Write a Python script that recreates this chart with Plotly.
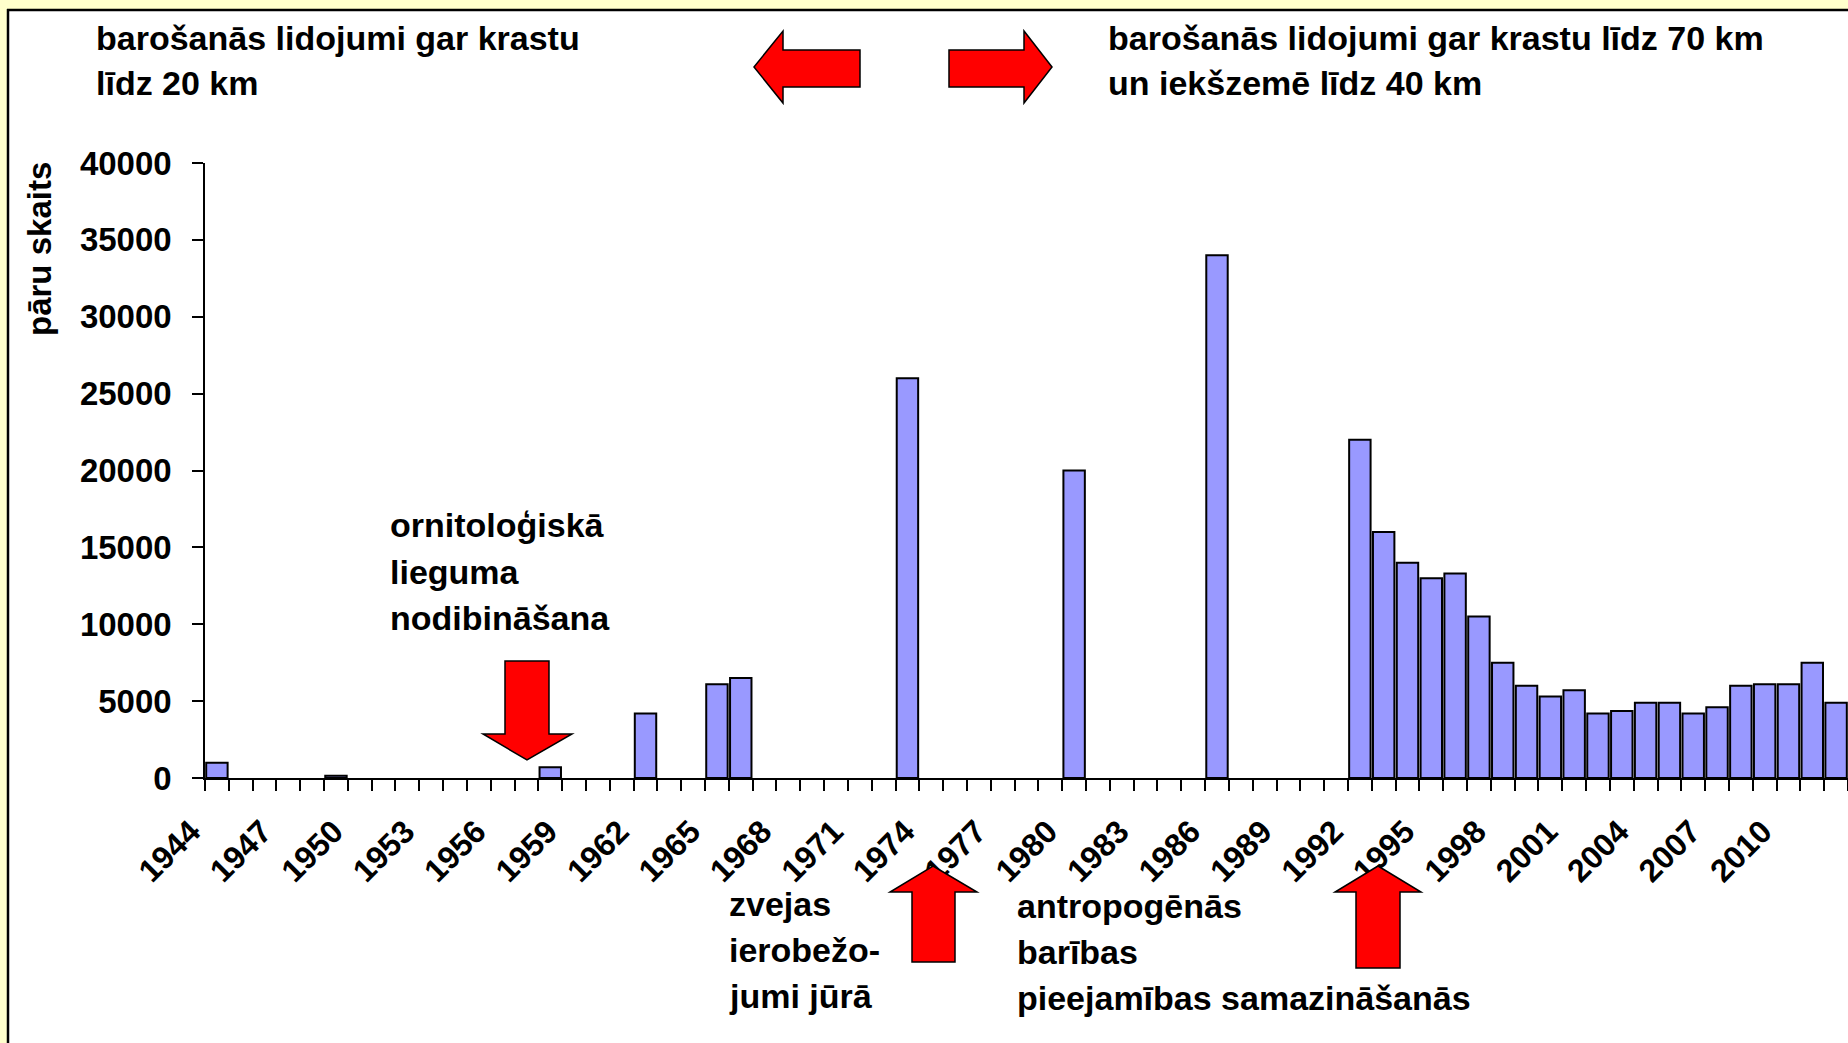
import plotly.graph_objects as go

# ---------------- data ----------------
years = list(range(1944, 2013))
pairs = [
    1000, None, None, None, None, 150, None, None, None, None,      # 1944-1953
    None, None, None, None, 700, None, None, None, 4200, None,      # 1954-1963
    None, 6100, 6500, None, None, None, None, None, None, 26000,    # 1964-1973
    None, None, None, None, None, None, 20000, None, None, None,    # 1974-1983
    None, None, 34000, None, None, None, None, None, 22000, 16000,  # 1984-1993
    14000, 13000, 13300, 10500, 7500, 6000, 5300, 5700, 4200, 4350, # 1994-2003
    4900, 4900, 4200, 4600, 6000, 6100, 6100, 7500, 4900,           # 2004-2012
]
label_years = list(range(1944, 2011, 3))
y_ticks = list(range(0, 40001, 5000))

# ---------------- geometry helpers (pixels -> paper) ----------------
W, H = 1848, 1043
L, R, T, B = 205, 0, 163, 265
PW = W - L - R
PH = H - T - B
BOTTOM = H - B


def px(x):
    return (x - L) / PW


def py(y):
    return (BOTTOM - y) / PH


def path(points):
    s = "M " + " L ".join(f"{px(x):.5f},{py(y):.5f}" for x, y in points) + " Z"
    return s


FONT = "Liberation Sans, Arial, sans-serif"

fig = go.Figure()
fig.add_trace(go.Bar(
    x=years, y=pairs,
    marker=dict(color="#9999FF", line=dict(color="black", width=2)),
    hoverinfo="x+y",
))

shapes = []
# page background strips and chart frame
shapes.append(dict(type="rect", xref="paper", yref="paper", x0=px(0), x1=px(8), y0=py(H + 5), y1=py(-5),
                   fillcolor="#FFFFCC", line=dict(width=0), layer="below"))
shapes.append(dict(type="rect", xref="paper", yref="paper", x0=px(0), x1=px(W + 5), y0=py(10), y1=py(-5),
                   fillcolor="#FFFFCC", line=dict(width=0), layer="below"))
shapes.append(dict(type="line", xref="paper", yref="paper", x0=px(8), x1=px(8), y0=py(9), y1=py(H + 5),
                   line=dict(color="black", width=2.5)))
shapes.append(dict(type="line", xref="paper", yref="paper", x0=px(7), x1=px(W + 5), y0=py(10), y1=py(10),
                   line=dict(color="black", width=2.5)))

arrows = [
    # top left-pointing arrow
    [(754, 67), (783, 31), (783, 50), (860, 50), (860, 87), (783, 87), (783, 103)],
    # top right-pointing arrow
    [(1052, 67), (1024, 31), (1024, 50), (949, 50), (949, 87), (1024, 87), (1024, 103)],
    # down arrow (reserve)
    [(505, 661), (549, 661), (549, 734), (572, 734), (527, 760), (483, 734), (505, 734)],
    # up arrow (fishing)
    [(933, 866), (977, 892), (955, 892), (955, 962), (912, 962), (912, 892), (890, 892)],
    # up arrow (food)
    [(1378, 866), (1421, 892), (1400, 892), (1400, 968), (1356, 968), (1356, 892), (1335, 892)],
]
for a in arrows:
    shapes.append(dict(type="path", xref="paper", yref="paper", path=path(a),
                       fillcolor="#FF0000", line=dict(color="black", width=1.5)))

annotations = []


def text(x, y, s):
    annotations.append(dict(xref="paper", yref="paper", x=px(x), y=py(y), text=s, showarrow=False,
                            xanchor="left", yanchor="middle",
                            font=dict(family=FONT, size=34, color="black", weight="bold")))


text(94, 38, "barošanās lidojumi gar krastu")
text(94, 83, "līdz 20 km")
text(1106, 38, "barošanās lidojumi gar krastu līdz 70 km")
text(1106, 83, "un iekšzemē līdz 40 km")
text(388, 525, "ornitoloģiskā")
text(388, 572, "lieguma")
text(388, 618, "nodibināšana")
text(727, 904, "zvejas")
text(727, 950, "ierobežo-")
text(727, 996, "jumi jūrā")
text(1015, 906, "antropogēnās")
text(1015, 952, "barības")
text(1015, 998, "pieejamības samazināšanās")

annotations.append(dict(xref="paper", yref="paper", x=px(39), y=py(249), text="pāru skaits",
                        showarrow=False, textangle=-90, xanchor="center", yanchor="middle",
                        font=dict(family=FONT, size=33, color="black", weight="bold")))

fig.update_layout(
    width=W, height=H,
    margin=dict(l=L, r=R, t=T, b=B, pad=0),
    paper_bgcolor="white", plot_bgcolor="white",
    showlegend=False, bargap=0.1,
    shapes=shapes, annotations=annotations,
    xaxis=dict(
        range=[1943.5, 2012.5], showgrid=False, zeroline=False,
        showline=True, linecolor="black", linewidth=2,
        tickmode="array", tickvals=label_years, ticktext=[str(v) for v in label_years],
        ticks="", tickangle=-45,
        tickfont=dict(family=FONT, size=32, color="black", weight="bold"),
        ticklabelstandoff=20, ticklabelshift=-26,
        minor=dict(tick0=1943.5, dtick=1, ticks="outside", ticklen=11, tickcolor="black", tickwidth=1.5),
        fixedrange=True,
    ),
    yaxis=dict(
        range=[0, 40000], showgrid=False, zeroline=False,
        showline=True, linecolor="black", linewidth=1.5,
        tickmode="array", tickvals=y_ticks, ticktext=[str(v) for v in y_ticks],
        ticks="outside", ticklen=11, tickcolor="black", tickwidth=1.5,
        tickfont=dict(family=FONT, size=33, color="black", weight="bold"),
        ticklabelstandoff=14,
        fixedrange=True,
    ),
)

fig.write_html("out.html", config={"displayModeBar": False},
               post_script="document.body.style.margin='0';document.body.style.overflow='hidden';")
